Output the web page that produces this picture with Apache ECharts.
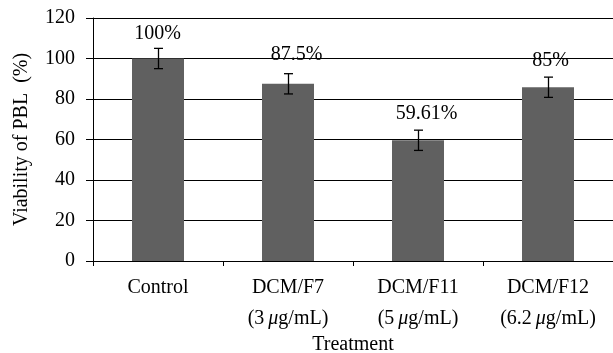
<!DOCTYPE html>
<html><head><meta charset="utf-8">
<script src="https://cdn.jsdelivr.net/npm/echarts@6/dist/echarts.min.js"></script>
<style>html,body{margin:0;padding:0;background:#fff}#c{width:613px;height:353px}</style>
</head><body><div id="c"></div>
<script>
var categories = ['Control', 'DCM/F7', 'DCM/F11', 'DCM/F12'];
var doses = ['', '3', '5', '6.2'];
var viability = [100, 87.5, 59.61, 85.8];
var errors = [5, 5, 5, 5];
var valueLabels = ['100%', '87.5%', '59.61%', '85%'];
var yTicks = { min: 0, max: 120, interval: 20 };

var labelOffsets = [[-1, -15], [8, -19], [8, -16], [2, -16]];
var FONT = 'Liberation Serif';

var chart = echarts.init(document.getElementById('c'), null, { renderer: 'canvas' });
var errData = viability.map(function (v, i) { return [i, v, errors[i]]; });

chart.setOption({
  animation: false,
  backgroundColor: '#fff',
  grid: { left: 93, right: 0, top: 18, bottom: 92, containLabel: false, outerBoundsMode: 'none' },
  xAxis: {
    type: 'category',
    data: categories,
    name: 'Treatment',
    nameLocation: 'middle',
    nameGap: 74,
    nameMoveOverlap: false,
    nameTextStyle: { fontFamily: FONT, fontSize: 20, color: '#000' },
    axisLine: { lineStyle: { color: '#000', width: 1 } },
    axisTick: { show: true, length: 5, alignWithLabel: false, lineStyle: { color: '#000' } },
    axisLabel: {
      margin: 11,
      interval: 0,
      formatter: function (val, idx) {
        var d = doses[idx];
        if (!d) return '{n|' + val + '}';
        return '{n|' + val + '}\n{n|(' + d + '\u2009}{i|\u03bc}{n|g/mL)}';
      },
      rich: {
        n: { fontFamily: FONT, fontSize: 20, color: '#000', lineHeight: 31 },
        i: { fontFamily: FONT, fontSize: 20, color: '#000', fontStyle: 'italic', lineHeight: 31 }
      }
    },
    splitLine: { show: false }
  },
  yAxis: {
    type: 'value',
    min: yTicks.min, max: yTicks.max, interval: yTicks.interval,
    name: 'Viability of PBL  (%)',
    nameLocation: 'middle',
    nameGap: 61,
    nameMoveOverlap: false,
    nameTextStyle: { fontFamily: FONT, fontSize: 20, color: '#000' },
    axisLine: { show: true, lineStyle: { color: '#000', width: 1 } },
    axisTick: { show: true, length: 7, lineStyle: { color: '#000' } },
    axisLabel: { margin: 18, fontFamily: FONT, fontSize: 20, color: '#000' },
    splitLine: { show: true, lineStyle: { color: '#000', width: 1 } }
  },
  series: [
    {
      type: 'bar',
      data: viability,
      barWidth: 52,
      itemStyle: { color: '#606060' },
      z: 2
    },
    {
      type: 'custom',
      data: errData,
      z: 5,
      renderItem: function (params, api) {
        var i = api.value(0), v = api.value(1), e = api.value(2);
        var top = api.coord([i, v + e]);
        var bot = api.coord([i, v - e]);
        var x = Math.round(top[0]) + 0.5;
        var off = labelOffsets[params.dataIndex];
        var st = { stroke: '#000', lineWidth: 1.3 };
        return {
          type: 'group',
          children: [
            { type: 'line', shape: { x1: x, y1: top[1], x2: x, y2: bot[1] }, style: st },
            { type: 'line', shape: { x1: x - 4.5, y1: top[1], x2: x + 4.5, y2: top[1] }, style: st },
            { type: 'line', shape: { x1: x - 4.5, y1: bot[1], x2: x + 4.5, y2: bot[1] }, style: st },
            { type: 'text', x: x + off[0], y: top[1] + off[1],
              style: { text: valueLabels[params.dataIndex], fontFamily: FONT, fontSize: 20, fill: '#000',
                       textAlign: 'center', textVerticalAlign: 'middle' } }
          ]
        };
      }
    }
  ]
});
</script></body></html>
